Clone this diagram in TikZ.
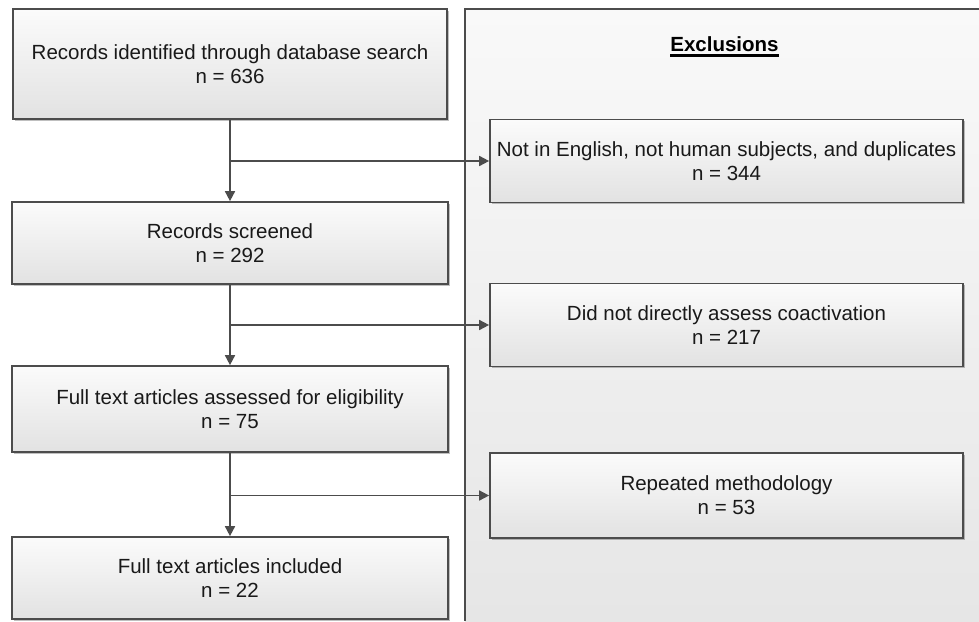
\documentclass[tikz,border=0pt]{standalone}
\usepackage{fontspec}
\setmainfont{Liberation Sans}
\usetikzlibrary{arrows.meta,shadows}
\definecolor{linegray}{HTML}{4C4C4C}
\definecolor{boxtop}{HTML}{FBFBFB}
\definecolor{boxbot}{HTML}{E2E2E2}
\definecolor{paneltop}{HTML}{F9F9F9}
\definecolor{panelbot}{HTML}{E6E6E6}
\begin{document}
\begin{tikzpicture}[x=1pt,y=-1pt,
  flowbox/.style={draw=linegray,line width=1.7pt,rectangle,align=center,
    top color=boxtop,bottom color=boxbot,inner sep=0pt,
    font=\fontsize{20.5}{24}\selectfont,text=black!90,
    drop shadow={shadow xshift=1.5pt,shadow yshift=-1.5pt,opacity=0.25,fill=black}},
  conn/.style={draw=linegray,line width=1.7pt,-{Triangle[length=10pt,width=10pt]}}]
\useasboundingbox (0,0) rectangle (979,621);
\fill[white] (0,0) rectangle (979,621);
% exclusions panel
\shade[top color=paneltop,bottom color=panelbot] (465,9) rectangle (979,621);
\draw[linegray,line width=1.7pt] (465,621) -- (465,9) -- (979,9);
\node[font=\fontsize{20.5}{24}\selectfont\bfseries,text=black,inner sep=0pt,anchor=base] (title) at (724.5,51) {Exclusions};
\draw[black,line width=2.6pt] ([yshift=-4.5pt]title.base west) -- ([yshift=-4.5pt]title.base east);
% left boxes
\node[flowbox,minimum width=434pt,minimum height=110pt] (b1) at (230,64) {Records identified through database search\\n = 636};
\node[flowbox,minimum width=436pt,minimum height=82pt] (b2) at (230,243) {Records screened\\n = 292};
\node[flowbox,minimum width=436pt,minimum height=86pt] (b3) at (230,409) {Full text articles assessed for eligibility\\n = 75};
\node[flowbox,minimum width=436pt,minimum height=82pt] (b4) at (230,578) {Full text articles included\\n = 22};
% right boxes
\node[flowbox,minimum width=473pt,minimum height=83pt] (r1) at (726.5,161) {Not in English, not human subjects, and duplicates\\n = 344};
\node[flowbox,minimum width=473pt,minimum height=83pt] (r2) at (726.5,325) {Did not directly assess coactivation\\n = 217};
\node[flowbox,minimum width=473pt,minimum height=85pt] (r3) at (726.5,495.5) {Repeated methodology\\n = 53};
% connectors
\draw[conn] (b1.south) -- (b2.north);
\draw[conn] (b2.south) -- (b3.north);
\draw[conn] (b3.south) -- (b4.north);
\coordinate (j1) at (b1.south |- r1.west);
\coordinate (j2) at (b2.south |- r2.west);
\coordinate (j3) at (b3.south |- r3.west);
\draw[conn] (j1) -- (r1.west);
\draw[conn] (j2) -- (r2.west);
\draw[conn] (j3) -- (r3.west);
\end{tikzpicture}
\end{document}
